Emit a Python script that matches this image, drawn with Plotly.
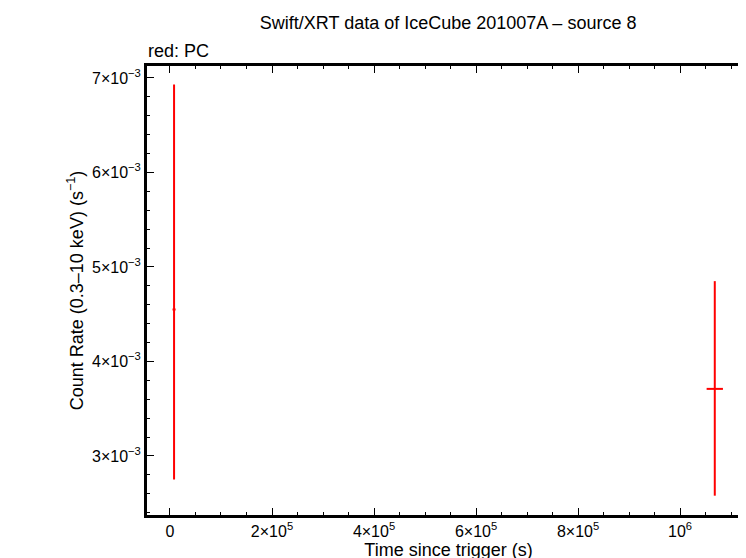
import plotly.graph_objects as go

# PC mode data
t = [8000, 1068000]
t_err = [3000, 16000]
rate = [4.55e-3, 3.71e-3]
rate_up = [2.38e-3, 1.14e-3]
rate_down = [1.80e-3, 1.13e-3]

x_ticks = [0, 2e5, 4e5, 6e5, 8e5, 1e6]
x_labels = ["0", "2×10<sup>5</sup>", "4×10<sup>5</sup>", "6×10<sup>5</sup>", "8×10<sup>5</sup>", "10<sup>6</sup>"]
y_ticks = [3e-3, 4e-3, 5e-3, 6e-3, 7e-3]
y_labels = ["%d×10<sup>−3</sup>" % v for v in [3, 4, 5, 6, 7]]

fig = go.Figure()
fig.add_trace(go.Scatter(
    x=t, y=rate, mode="markers",
    marker=dict(size=1, color="red"),
    error_x=dict(type="data", array=t_err, color="red", thickness=2, width=0),
    error_y=dict(type="data", array=rate_up, arrayminus=rate_down, color="red", thickness=2, width=0),
    showlegend=False))

axis_style = dict(showline=True, linewidth=2, linecolor="black", mirror="ticks",
                  ticks="inside", ticklen=8, tickwidth=1, tickcolor="black",
                  showgrid=False, zeroline=False, automargin=False,
                  tickfont=dict(family="Liberation Sans, Arial", size=16, color="black"),
                  minor=dict(ticks="inside", ticklen=4, tickcolor="black"))

fig.update_xaxes(range=[-47000, 1.139e6], tickvals=x_ticks, ticktext=x_labels,
                 title=dict(text="Time since trigger (s)", standoff=0,
                            font=dict(family="Liberation Sans, Arial", size=18)),
                 **axis_style)
fig.update_yaxes(range=[2.365e-3, 7.137e-3], tickvals=y_ticks, ticktext=y_labels,
                 title=dict(text="Count Rate (0.3–10 keV) (s<sup>−1</sup>)", standoff=4,
                            font=dict(family="Liberation Sans, Arial", size=18)),
                 **axis_style)

fig.add_shape(type="rect", xref="paper", yref="paper", x0=0, y0=0, x1=1, y1=1,
              line=dict(color="black", width=2))

fig.update_layout(
    width=746, height=558,
    margin=dict(l=138, r=3, t=57, b=50),
    plot_bgcolor="white", paper_bgcolor="white",
    font=dict(family="Liberation Sans, Arial", color="black"),
    title=dict(text="Swift/XRT data of IceCube 201007A – source 8", x=0.59, xanchor="center",
               y=0.985, yanchor="top", font=dict(size=18)),
    annotations=[dict(text="red: PC", xref="paper", yref="paper", x=0, y=1.005,
                      xanchor="left", yanchor="bottom", showarrow=False, font=dict(size=18))]
)

fig.write_html("out.html")
